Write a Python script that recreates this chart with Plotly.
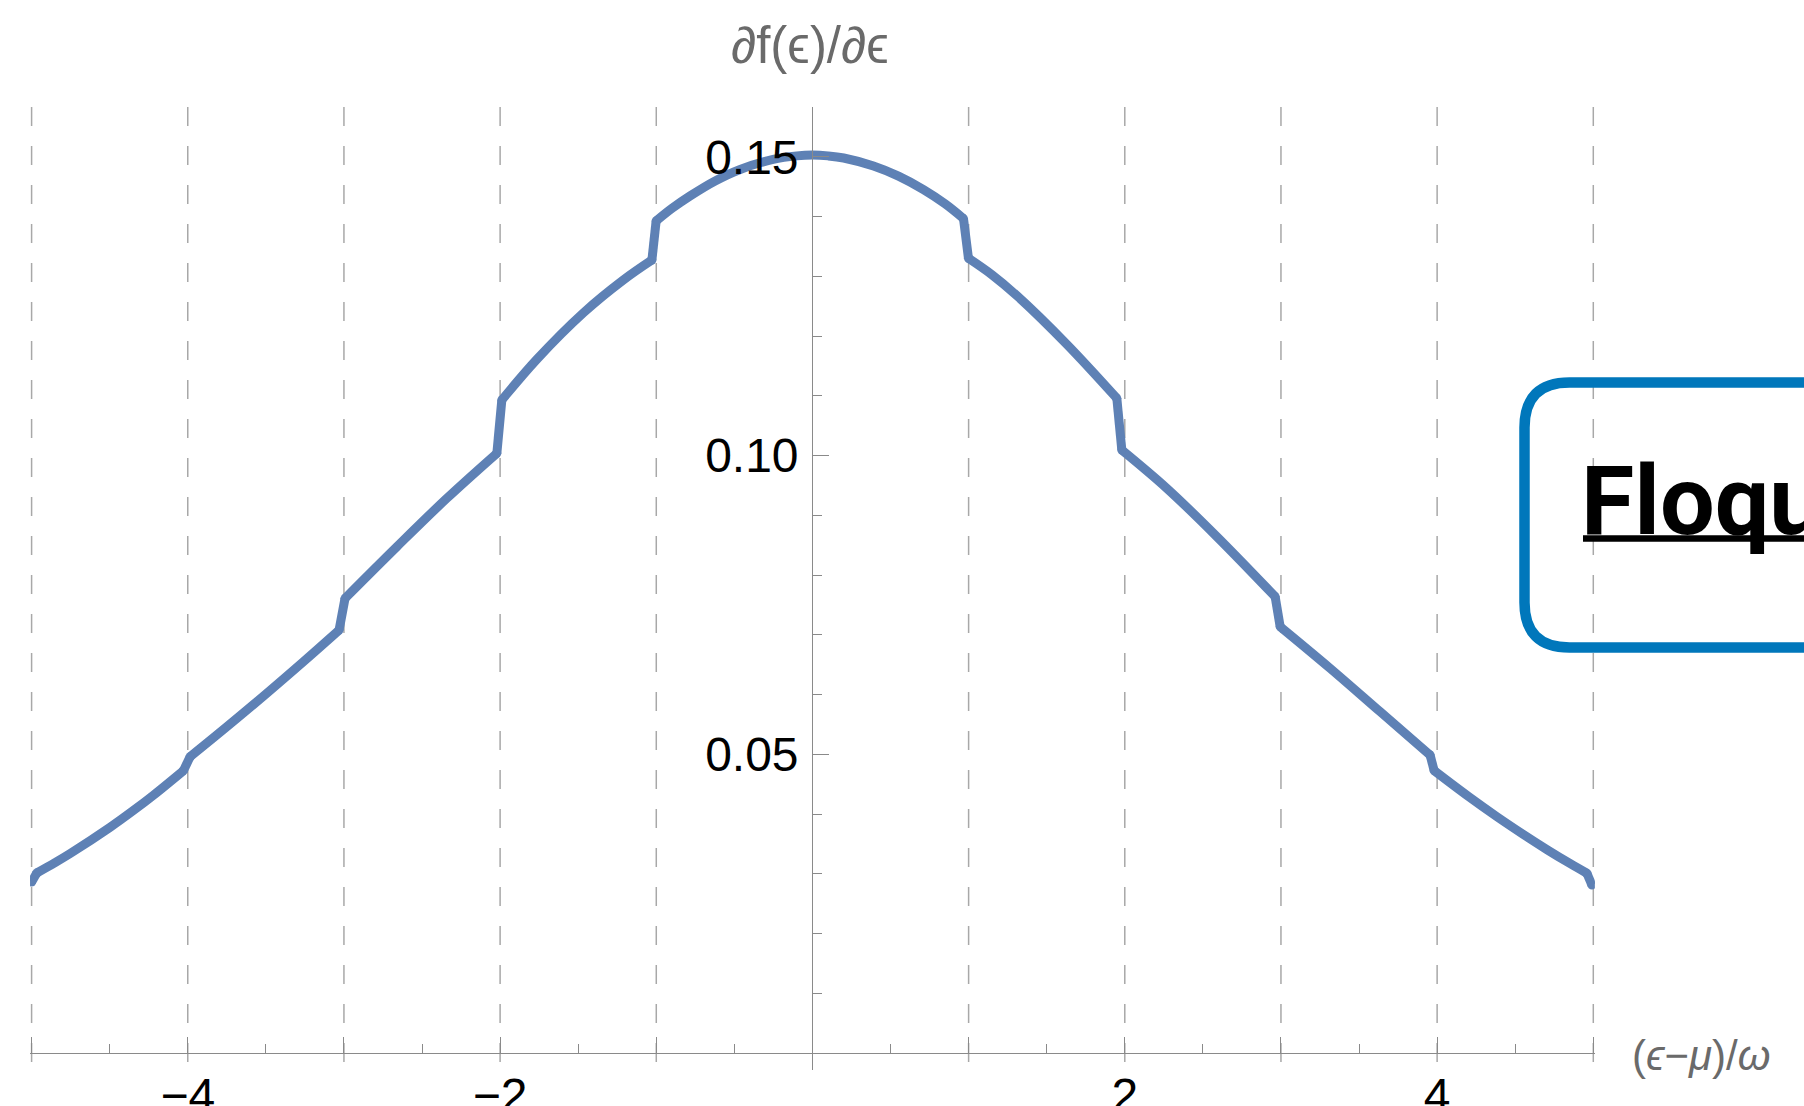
import plotly.graph_objects as go

# ---------------- data ----------------
x_vals = [-5.000, -4.967, -4.850, -4.753, -4.497, -4.350, -4.218, -4.028,
          -3.985, -3.836, -3.579, -3.259, -3.031,
          -2.993, -2.661, -2.341, -2.021,
          -1.989, -1.765, -1.466, -1.210, -1.028,
          -1.001, -0.900, -0.783, -0.623, -0.463, -0.252, -0.100, 0.000, 0.100, 0.200,
          0.391, 0.551, 0.711, 0.850, 0.967,
          0.999, 1.150, 1.309, 1.629, 1.949,
          1.981, 2.269, 2.590, 2.963,
          2.995, 3.315, 3.635, 3.955,
          3.981, 4.200, 4.382, 4.550, 4.703, 4.850, 4.959, 4.991]
y_vals = [0.02862, 0.03013, 0.03186, 0.03338, 0.03778, 0.04055, 0.04319, 0.04725,
          0.04959, 0.05275, 0.05833, 0.06552, 0.07079,
          0.07610, 0.08474, 0.09284, 0.10037,
          0.10929, 0.11610, 0.12390, 0.12940, 0.13272,
          0.13925, 0.14135, 0.14345, 0.14595, 0.14788, 0.14955, 0.15015, 0.15029, 0.15015, 0.14980,
          0.14845, 0.14675, 0.14450, 0.14210, 0.13965,
          0.13300, 0.13023, 0.12675, 0.11860, 0.10957,
          0.10092, 0.09451, 0.08641, 0.07637,
          0.07135, 0.06438, 0.05712, 0.04987,
          0.04725, 0.04294, 0.03956, 0.03661, 0.03405, 0.03172, 0.03008, 0.02812]

grid_x = [-5, -4, -3, -2, -1, 1, 2, 3, 4, 5]
x_tick_vals = [-5, -4, -3, -2, -1, 0, 1, 2, 3, 4, 5]
x_tick_text = ["", "\u22124", "", "\u22122", "", "", "", "2", "", "4", ""]
y_tick_vals = [0.05, 0.10, 0.15]
y_tick_text = ["0.05", "0.10", "0.15"]

x_title = "(<i>\u03f5</i>\u2212<i>\u03bc</i>)/<i>\u03c9</i>"
y_title = "\u2202f(\u03f5)/\u2202\u03f5"
box_text = "<b>Floquet</b>"

# ---------------- layout constants (page pixels) ----------------
W, H = 1804, 1106
X_RANGE = [-5.01, 5.01]
Y_RANGE = [-0.002845, 0.15833]
PX_X0, PX_X5 = 31.6, 1593.3          # pixel of x=-5 and x=5
ppu = (PX_X5 - PX_X0) / 10.0
xdom = [(PX_X0 - 0.01 * ppu) / W, (PX_X5 + 0.01 * ppu) / W]
ydom = [(H - 1070) / H, (H - 107) / H]
x_axis_paper_y = (H - 1053) / H
y_axis_paper_x = 812.3 / W

AXIS_GRAY = "#8a8a8a"
TITLE_GRAY = "#6a6a6a"
CURVE = "#5E81B5"
BOX = "#0077BB"
LW = 9


def px(xp):
    return xp / W


def py(yp):
    return 1 - yp / H


fig = go.Figure()

# split the curve into smooth pieces at the steep jumps (closely spaced samples)
JUMP_DX = 0.06
pieces, jumps = [], []
start = 0
for i in range(len(x_vals) - 1):
    if x_vals[i + 1] - x_vals[i] < JUMP_DX:
        if i > start:
            pieces.append((start, i))
        jumps.append((i, i + 1))
        start = i + 1
if start < len(x_vals) - 1:
    pieces.append((start, len(x_vals) - 1))

for a, b in pieces:
    fig.add_trace(go.Scatter(x=x_vals[a:b + 1], y=y_vals[a:b + 1], mode="lines",
                             line=dict(color=CURVE, width=LW, shape="spline", smoothing=1.0),
                             showlegend=False, hoverinfo="skip"))
for a, b in jumps:
    fig.add_trace(go.Scatter(x=x_vals[a:b + 1], y=y_vals[a:b + 1], mode="lines+markers",
                             line=dict(color=CURVE, width=LW),
                             marker=dict(color=CURVE, size=LW, line=dict(width=0)),
                             showlegend=False, hoverinfo="skip"))

shapes = []
for gx in grid_x:
    shapes.append(dict(type="line", xref="x", yref="y", x0=gx, x1=gx,
                       y0=Y_RANGE[1], y1=Y_RANGE[0], layer="below",
                       line=dict(color="#a8a8a8", width=1.5, dash="19px,20px")))

# rounded box (partly off the right edge)
L, T, B, R, r = 1524.5, 382.5, 647.5, 2300.0, 45.0
path = (f"M {px(R)},{py(T)} L {px(L + r)},{py(T)} Q {px(L)},{py(T)} {px(L)},{py(T + r)} "
        f"L {px(L)},{py(B - r)} Q {px(L)},{py(B)} {px(L + r)},{py(B)} L {px(R)},{py(B)}")
shapes.append(dict(type="path", xref="paper", yref="paper", path=path,
                   line=dict(color=BOX, width=10.5)))
# underline of the box title
shapes.append(dict(type="line", xref="paper", yref="paper", x0=px(1583), x1=px(2300),
                   y0=py(538.5), y1=py(538.5), line=dict(color="black", width=6.5)))

annotations = [
    dict(text=y_title, xref="paper", yref="paper", x=810 / W, y=py(46),
         xanchor="center", yanchor="middle", showarrow=False,
         font=dict(family="Liberation Sans, Arial", size=51, color=TITLE_GRAY)),
    dict(text=x_title, xref="paper", yref="paper", x=1630 / W, y=py(1055),
         xanchor="left", yanchor="middle", showarrow=False,
         font=dict(family="Liberation Sans, Arial", size=42, color=TITLE_GRAY)),
    dict(text=box_text, xref="paper", yref="paper", x=1579 / W, y=py(501),
         xanchor="left", yanchor="middle", showarrow=False,
         font=dict(family="Roboto", size=97, color="black")),
]

fig.update_layout(
    width=W, height=H,
    margin=dict(l=0, r=0, t=0, b=0, autoexpand=False),
    paper_bgcolor="white", plot_bgcolor="white",
    shapes=shapes, annotations=annotations,
    xaxis=dict(range=X_RANGE, domain=xdom, anchor="free", position=x_axis_paper_y,
               automargin=False,
               showgrid=False, zeroline=False, showline=True, linecolor=AXIS_GRAY, linewidth=1.3,
               tickmode="array", tickvals=x_tick_vals, ticktext=x_tick_text,
               ticks="inside", ticklen=16, tickwidth=1.3, tickcolor=AXIS_GRAY,
               ticklabelstandoff=0,
               tickfont=dict(family="Liberation Sans, Arial", size=48, color="black"),
               minor=dict(tickmode="linear", tick0=0, dtick=0.5, ticks="inside", ticklen=9,
                          tickwidth=1.3, tickcolor=AXIS_GRAY, showgrid=False)),
    yaxis=dict(range=Y_RANGE, domain=ydom, anchor="free", position=y_axis_paper_x,
               automargin=False,
               showgrid=False, zeroline=False, showline=True, linecolor=AXIS_GRAY, linewidth=1.3,
               tickmode="array", tickvals=y_tick_vals, ticktext=y_tick_text,
               ticks="inside", ticklen=16, tickwidth=1.3, tickcolor=AXIS_GRAY,
               ticklabelstandoff=4,
               tickfont=dict(family="Liberation Sans, Arial", size=48, color="black"),
               minor=dict(tickmode="linear", tick0=0, dtick=0.01, ticks="inside", ticklen=9,
                          tickwidth=1.3, tickcolor=AXIS_GRAY, showgrid=False)),
)

fig.write_html("out.html", config={"displayModeBar": False},
               post_script="document.body.style.margin='0px';document.body.style.overflow='hidden';")
